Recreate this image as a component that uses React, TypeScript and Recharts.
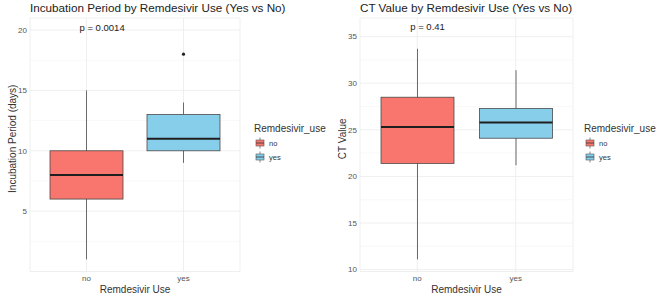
import React from 'react';
import {
    ComposedChart,
    Bar,
    Scatter,
    XAxis,
    YAxis,
    CartesianGrid,
    ReferenceDot,
} from 'recharts';

const groups = ['no', 'yes'];

// incubation period (days)
const incLow = [1, 9];
const incQ1 = [6, 10];
const incMed = [8, 11];
const incQ3 = [10, 13];
const incHigh = [15, 14];
const incOutliers = [null, 18];
const incTicks = [5, 10, 15, 20];
const incMinor = [2.5, 7.5, 12.5, 17.5];

// CT value
const ctLow = [11.1, 21.2];
const ctQ1 = [21.4, 24.1];
const ctMed = [25.3, 25.8];
const ctQ3 = [28.5, 27.3];
const ctHigh = [33.7, 31.4];
const ctOutliers = [null, null];
const ctTicks = [10, 15, 20, 25, 30, 35];
const ctMinor = [12.5, 17.5, 22.5, 27.5, 32.5];

const fills: Record<string, string> = { no: '#F8766D', yes: '#87CEEB' };
const FONT = '"Liberation Sans", Arial, sans-serif';

const makeRows = (lo, q1, med, q3, hi, out) =>
    groups.map((g, i) => ({ group: g, lo: lo[i], q1: q1[i], med: med[i], q3: q3[i], hi: hi[i], out: out[i] }));

const incRows = makeRows(incLow, incQ1, incMed, incQ3, incHigh, incOutliers);
const ctRows = makeRows(ctLow, ctQ1, ctMed, ctQ3, ctHigh, ctOutliers);

const BoxShape = (props: any) => {
    const { x, y, width, height, payload } = props;
    const top = Math.min(y, y + height);
    const h = Math.abs(height);
    const span = payload.hi - payload.lo;
    const py = (v: number) => top + ((payload.hi - v) / span) * h;
    const cx = x + width / 2;
    return (
        <g>
            <line x1={cx} x2={cx} y1={py(payload.hi)} y2={py(payload.lo)} stroke="#5a5a5a" strokeWidth={0.9} />
            <rect
                x={x}
                y={py(payload.q3)}
                width={width}
                height={py(payload.q1) - py(payload.q3)}
                fill={fills[payload.group]}
                stroke="#4a4a4a"
                strokeWidth={0.8}
            />
            <line x1={x} x2={x + width} y1={py(payload.med)} y2={py(payload.med)} stroke="#1f1f1f" strokeWidth={2} />
        </g>
    );
};

const OutlierDot = (props: any) => {
    if (props.payload == null || props.payload.out == null) return null;
    return <circle cx={props.cx} cy={props.cy} r={1.6} fill="#222" />;
};

const LegendKey = ({ color }: { color: string }) => (
    <svg width={10} height={12} style={{ display: 'block' }}>
        <line x1={5} x2={5} y1={0.5} y2={11.5} stroke="#555" strokeWidth={0.7} />
        <rect x={1} y={3} width={8} height={6} fill={color} stroke="#555" strokeWidth={0.6} />
        <line x1={1} x2={9} y1={6} y2={6} stroke="#333" strokeWidth={0.8} />
    </svg>
);

const BoxPanel = ({ title, yTitle, rows, domain, ticks, minor, pText, pY, rightMargin }) => (
    <div style={{ position: 'relative', width: 330, height: 298 }}>
        <div
            style={{
                position: 'absolute',
                left: 30,
                top: 0,
                fontFamily: FONT,
                fontSize: 11.7,
                lineHeight: '16px',
                color: '#222',
                whiteSpace: 'nowrap',
            }}
        >
            {title}
        </div>
        <ComposedChart width={330} height={298} data={rows} margin={{ top: 18, right: rightMargin, bottom: 0, left: 0 }}>
            <CartesianGrid vertical={false} horizontalValues={minor} stroke="#f4f4f4" strokeWidth={0.6} />
            <CartesianGrid stroke="#ebebeb" strokeWidth={0.8} />
            <XAxis
                dataKey="group"
                padding={{ left: 8, right: 8 }}
                axisLine={false}
                tickLine={false}
                tickSize={0}
                tickMargin={4}
                height={26.5}
                tick={{ fontSize: 8, fill: '#555', fontFamily: FONT }}
                label={{
                    content: ({ viewBox }: any) => (
                        <text
                            x={viewBox.x + viewBox.width / 2}
                            y={289}
                            textAnchor="middle"
                            dominantBaseline="central"
                            fontSize={10}
                            fill="#333"
                            fontFamily={FONT}
                        >
                            Remdesivir Use
                        </text>
                    ),
                }}
            />
            <YAxis
                type="number"
                domain={domain}
                ticks={ticks}
                allowDataOverflow
                width={30}
                axisLine={false}
                tickLine={false}
                tickSize={0}
                tickMargin={3}
                tick={{ fontSize: 8, fill: '#555', fontFamily: FONT }}
                label={{
                    content: ({ viewBox }: any) => {
                        const cx = 12;
                        const cy = viewBox.y + viewBox.height / 2 - 6;
                        return (
                            <text
                                x={cx}
                                y={cy}
                                transform={`rotate(-90 ${cx} ${cy})`}
                                textAnchor="middle"
                                dominantBaseline="central"
                                fontSize={10}
                                fill="#333"
                                fontFamily={FONT}
                            >
                                {yTitle}
                            </text>
                        );
                    },
                }}
            />
            <Bar dataKey={(d: any) => [d.lo, d.hi]} barSize={73} shape={BoxShape} isAnimationActive={false} />
            <Scatter dataKey="out" shape={OutlierDot} isAnimationActive={false} />
            <ReferenceDot
                x="no"
                y={pY}
                r={0}
                shape={(p: any) => (
                    <text
                        x={p.cx - 7}
                        y={p.cy}
                        dominantBaseline="central"
                        fontSize={9.5}
                        fill="#222"
                        fontFamily={FONT}
                    >
                        {pText}
                    </text>
                )}
            />
        </ComposedChart>
        <div style={{ position: 'absolute', left: 254, top: 122, fontFamily: FONT, color: '#333' }}>
            <div style={{ fontSize: 10, lineHeight: '14px' }}>Remdesivir_use</div>
            {groups.map((g) => (
                <div key={g} style={{ display: 'flex', alignItems: 'center', height: 14, marginLeft: 1 }}>
                    <LegendKey color={fills[g]} />
                    <span style={{ fontSize: 7.5, marginLeft: 4 }}>{g}</span>
                </div>
            ))}
        </div>
    </div>
);

export default function App() {
    return (
        <div
            style={{
                position: 'absolute',
                left: 0,
                top: 0,
                width: 660,
                height: 298,
                background: '#fff',
                display: 'flex',
            }}
        >
            <BoxPanel
                title="Incubation Period by Remdesivir Use (Yes vs No)"
                yTitle="Incubation Period (days)"
                rows={incRows}
                domain={[0, 21]}
                ticks={incTicks}
                minor={incMinor}
                pText="p = 0.0014"
                pY={20.25}
                rightMargin={90}
            />
            <BoxPanel
                title="CT Value by Remdesivir Use (Yes vs No)"
                yTitle="CT Value"
                rows={ctRows}
                domain={[9.8, 37]}
                ticks={ctTicks}
                minor={ctMinor}
                pText="p = 0.41"
                pY={36.05}
                rightMargin={87}
            />
        </div>
    );
}
